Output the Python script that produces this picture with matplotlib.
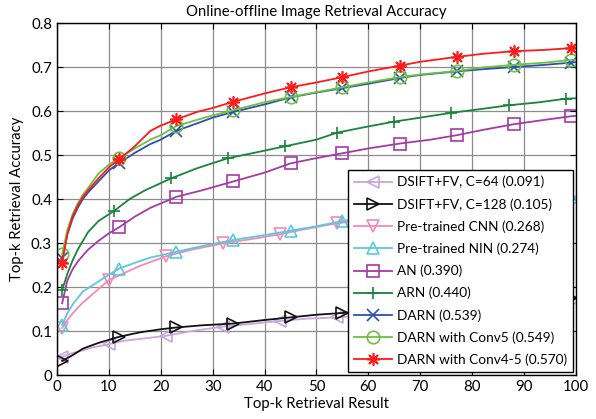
import matplotlib
matplotlib.use("Agg")
import matplotlib.pyplot as plt

# --- data (k, top-k accuracy) ---
k_c64 = [1, 3, 5, 7, 10, 13, 16, 21, 26, 32, 38, 43, 48, 54, 65, 76, 87, 98, 100]
acc_c64 = [0.042, 0.050, 0.056, 0.063, 0.070, 0.078, 0.082, 0.089, 0.100, 0.110,
           0.117, 0.123, 0.128, 0.131, 0.140, 0.148, 0.155, 0.162, 0.163]

k_c128 = [1, 3, 5, 8, 12, 16, 20, 23, 28, 34, 40, 45, 50, 55, 66, 77, 88, 99, 100]
acc_c128 = [0.032, 0.045, 0.060, 0.073, 0.087, 0.097, 0.104, 0.108, 0.113, 0.117,
            0.125, 0.131, 0.137, 0.141, 0.150, 0.158, 0.166, 0.174, 0.175]

k_cnn = [1, 2, 3, 5, 7, 10, 13, 16, 21, 26, 32, 38, 43, 48, 54, 65, 76, 87, 98, 100]
acc_cnn = [0.107, 0.125, 0.140, 0.165, 0.185, 0.216, 0.232, 0.248, 0.270, 0.285,
           0.299, 0.310, 0.320, 0.332, 0.345, 0.360, 0.375, 0.390, 0.400, 0.402]

k_nin = [1, 2, 3, 5, 7, 10, 12, 15, 18, 23, 28, 34, 40, 45, 50, 55, 66, 77, 88, 99, 100]
acc_nin = [0.114, 0.140, 0.160, 0.190, 0.205, 0.228, 0.242, 0.255, 0.267, 0.280,
           0.293, 0.307, 0.318, 0.328, 0.338, 0.350, 0.365, 0.380, 0.393, 0.405, 0.406]

k_an = [1, 2, 3, 4, 6, 8, 10, 12, 15, 18, 23, 28, 34, 40, 45, 50, 55, 60, 66, 72,
        77, 82, 88, 94, 99, 100]
acc_an = [0.163, 0.215, 0.240, 0.258, 0.285, 0.305, 0.322, 0.336, 0.360, 0.380,
          0.405, 0.420, 0.440, 0.460, 0.481, 0.493, 0.504, 0.515, 0.526, 0.535,
          0.545, 0.557, 0.570, 0.580, 0.588, 0.589]

k_arn = [1, 2, 3, 4, 6, 8, 11, 14, 17, 22, 27, 33, 38, 44, 50, 54, 60, 65, 70, 76,
         82, 87, 93, 98, 100]
acc_arn = [0.193, 0.230, 0.260, 0.285, 0.325, 0.350, 0.373, 0.400, 0.420, 0.447,
           0.470, 0.493, 0.505, 0.520, 0.535, 0.551, 0.565, 0.576, 0.585, 0.596,
           0.605, 0.613, 0.620, 0.628, 0.629]

k_darn = [1, 2, 3, 4, 5, 6, 8, 10, 12, 15, 18, 20, 23, 27, 30, 34, 40, 45, 50, 55,
          60, 66, 70, 77, 82, 88, 94, 99, 100]
acc_darn = [0.265, 0.320, 0.355, 0.380, 0.400, 0.415, 0.440, 0.465, 0.482, 0.505,
            0.525, 0.535, 0.555, 0.572, 0.585, 0.598, 0.615, 0.631, 0.642, 0.652,
            0.662, 0.675, 0.682, 0.690, 0.695, 0.700, 0.705, 0.710, 0.711]
acc_conv5 = [0.274, 0.330, 0.365, 0.390, 0.410, 0.425, 0.458, 0.478, 0.493, 0.515,
             0.535, 0.545, 0.566, 0.580, 0.590, 0.602, 0.620, 0.632, 0.643, 0.654,
             0.665, 0.677, 0.683, 0.691, 0.699, 0.705, 0.710, 0.716, 0.717]
acc_conv45 = [0.255, 0.320, 0.360, 0.385, 0.405, 0.420, 0.447, 0.472, 0.490, 0.520,
              0.555, 0.567, 0.581, 0.598, 0.607, 0.621, 0.640, 0.654, 0.665, 0.677,
              0.690, 0.703, 0.712, 0.723, 0.730, 0.736, 0.739, 0.743, 0.744]

labels = ["DSIFT+FV, C=64 (0.091)", "DSIFT+FV, C=128 (0.105)",
          "Pre-trained CNN (0.268)", "Pre-trained NIN (0.274)",
          "AN (0.390)", "ARN (0.440)", "DARN (0.539)",
          "DARN with Conv5 (0.549)", "DARN with Conv4-5 (0.570)"]

series = [(k_c64, acc_c64), (k_c128, acc_c128), (k_cnn, acc_cnn), (k_nin, acc_nin),
          (k_an, acc_an), (k_arn, acc_arn), (k_darn, acc_darn),
          (k_darn, acc_conv5), (k_darn, acc_conv45)]

# --- styles ---
colors = ["#c9a6dc", "#111111", "#f38ab5", "#5ac8e0", "#a33aa6",
          "#17853a", "#2f4fb0", "#6cc23f", "#ff1a1a"]
markers = ["<", ">", "v", "^", "s", "+", "x", "o", (8, 2, 0)]
marks_a = [1, 12, 23, 34, 45, 55, 66, 77, 88, 99]
marks_b = [1, 10, 21, 32, 43, 54, 65, 76, 87, 98]
marks_c = [1, 11, 22, 33, 44, 54, 65, 76, 87, 98]
mark_ks = [marks_b, marks_a, marks_b, marks_a, marks_a, marks_c, marks_a, marks_a, marks_a]

plt.rcParams["font.family"] = ["Lato", "DejaVu Sans"]

fig = plt.figure(figsize=(5.96, 4.19), dpi=100)
ax = fig.add_axes([0.0956, 0.105, 0.8708, 0.840])

for (k, acc), c, m, mk, lab in zip(series, colors, markers, mark_ks, labels):
    idx = [k.index(v) for v in mk if v in k]
    ax.plot(k, acc, color=c, lw=1.3, marker=m, markevery=idx,
            markersize=9, markerfacecolor="none",
            markeredgecolor=c, markeredgewidth=1.2, label=lab)

ax.set_xlim(0, 100)
ax.set_ylim(0, 0.8)
ax.set_xticks(range(0, 101, 10))
ax.set_yticks([i / 10 for i in range(9)])
ax.set_yticklabels(["0"] + ["%.1f" % (i / 10) for i in range(1, 9)])
ax.grid(True, color="#8c8c8c", lw=0.9)
ax.set_axisbelow(True)
ax.tick_params(direction="in", top=True, right=True, length=4, labelsize=10.8)
for s in ax.spines.values():
    s.set_linewidth(1.0)

ax.set_title("Online-offline Image Retrieval Accuracy", fontsize=10.7, pad=5)
ax.set_xlabel("Top-k Retrieval Result", fontsize=10.7, labelpad=2)
ax.set_ylabel("Top-k Retrieval Accuracy", fontsize=10.7, labelpad=5)

leg = ax.legend(loc="lower right", bbox_to_anchor=(0.994, 0.009), fontsize=9.8,
                handlelength=2.8, handletextpad=0.35, borderpad=0.42,
                labelspacing=0.71, fancybox=False, framealpha=1,
                edgecolor="black", borderaxespad=0)
leg.get_frame().set_linewidth(1.0)

fig.savefig("out.png", dpi=100)
